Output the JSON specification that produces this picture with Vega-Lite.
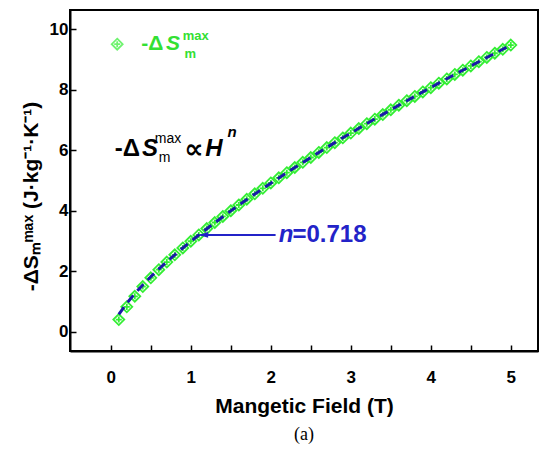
{
  "$schema": "https://vega.github.io/schema/vega-lite/v6.json",
  "width": 468,
  "height": 341,
  "autosize": {"type": "none"},
  "padding": {"left": 70, "top": 10, "right": 11, "bottom": 98},
  "background": "white",
  "config": {
    "view": {"stroke": "black", "strokeWidth": 2},
    "font": "Liberation Sans"
  },
  "title": {"text": "(a)", "orient": "bottom", "font": "Liberation Serif", "fontSize": 18, "fontWeight": "normal", "color": "black", "offset": 10},
  "datasets": {
    "pts": [
      {"H": 0.1, "S": 0.40, "F": 0.571},
      {"H": 0.2, "S": 0.82, "F": 0.940},
      {"H": 0.3, "S": 1.17, "F": 1.258},
      {"H": 0.4, "S": 1.49, "F": 1.546},
      {"H": 0.5, "S": 1.78, "F": 1.815},
      {"H": 0.6, "S": 2.05, "F": 2.069},
      {"H": 0.7, "S": 2.30, "F": 2.311},
      {"H": 0.8, "S": 2.54, "F": 2.543},
      {"H": 0.9, "S": 2.77, "F": 2.767},
      {"H": 1.0, "S": 2.99, "F": 2.985},
      {"H": 1.1, "S": 3.20, "F": 3.196},
      {"H": 1.2, "S": 3.41, "F": 3.403},
      {"H": 1.3, "S": 3.61, "F": 3.604},
      {"H": 1.4, "S": 3.81, "F": 3.801},
      {"H": 1.5, "S": 4.00, "F": 3.994},
      {"H": 1.6, "S": 4.19, "F": 4.183},
      {"H": 1.7, "S": 4.38, "F": 4.369},
      {"H": 1.8, "S": 4.56, "F": 4.552},
      {"H": 1.9, "S": 4.74, "F": 4.733},
      {"H": 2.0, "S": 4.92, "F": 4.910},
      {"H": 2.1, "S": 5.09, "F": 5.085},
      {"H": 2.2, "S": 5.26, "F": 5.258},
      {"H": 2.3, "S": 5.43, "F": 5.428},
      {"H": 2.4, "S": 5.60, "F": 5.597},
      {"H": 2.5, "S": 5.76, "F": 5.763},
      {"H": 2.6, "S": 5.93, "F": 5.928},
      {"H": 2.7, "S": 6.09, "F": 6.091},
      {"H": 2.8, "S": 6.25, "F": 6.252},
      {"H": 2.9, "S": 6.41, "F": 6.412},
      {"H": 3.0, "S": 6.57, "F": 6.569},
      {"H": 3.1, "S": 6.72, "F": 6.726},
      {"H": 3.2, "S": 6.88, "F": 6.881},
      {"H": 3.3, "S": 7.03, "F": 7.035},
      {"H": 3.4, "S": 7.18, "F": 7.187},
      {"H": 3.5, "S": 7.34, "F": 7.338},
      {"H": 3.6, "S": 7.49, "F": 7.488},
      {"H": 3.7, "S": 7.64, "F": 7.637},
      {"H": 3.8, "S": 7.78, "F": 7.784},
      {"H": 3.9, "S": 7.93, "F": 7.931},
      {"H": 4.0, "S": 8.07, "F": 8.077},
      {"H": 4.1, "S": 8.22, "F": 8.221},
      {"H": 4.2, "S": 8.36, "F": 8.365},
      {"H": 4.3, "S": 8.51, "F": 8.507},
      {"H": 4.4, "S": 8.65, "F": 8.648},
      {"H": 4.5, "S": 8.79, "F": 8.789},
      {"H": 4.6, "S": 8.93, "F": 8.929},
      {"H": 4.7, "S": 9.07, "F": 9.068},
      {"H": 4.8, "S": 9.21, "F": 9.206},
      {"H": 4.9, "S": 9.34, "F": 9.342},
      {"H": 5.0, "S": 9.48, "F": 9.480}
    ],
    "legendMark": [{"H": 0.08, "S": 9.51}],
    "legendDelta": [{"H": 0.38, "S": 9.51, "t": "-Δ"}],
    "legendS": [{"H": 0.69, "S": 9.51, "t": "S"}],
    "legendSup": [{"H": 0.9, "S": 9.78, "t": "max"}],
    "legendSub": [{"H": 0.92, "S": 9.2, "t": "m"}],
    "formDelta": [{"H": 0.05, "S": 6.05, "t": "-Δ"}],
    "formS": [{"H": 0.39, "S": 6.05, "t": "S"}],
    "formSup": [{"H": 0.55, "S": 6.37, "t": "max"}],
    "formSub": [{"H": 0.6, "S": 5.73, "t": "m"}],
    "formProp": [{"H": 0.92, "S": 6.0, "t": "∝"}],
    "formH": [{"H": 1.18, "S": 6.05, "t": "H"}],
    "formN": [{"H": 1.46, "S": 6.62, "t": "n"}],
    "arrow": [{"H": 1.12, "H2": 2.06, "S": 3.2}],
    "nText": [{"H": 2.1, "S": 3.2, "t": "n"}],
    "valText": [{"H": 2.27, "S": 3.2, "t": "=0.718"}]
  },
  "layer": [
    {
      "data": {"name": "pts"},
      "mark": {"type": "point", "shape": "M0,-1L1,0L0,1L-1,0Z M-0.55,0L0.55,0 M0,-0.55L0,0.55", "filled": false, "stroke": "#33ee33", "strokeWidth": 1.8, "size": 120, "opacity": 1},
      "encoding": {
        "x": {"field": "H", "type": "quantitative", "scale": {"domain": [-0.51, 5.34], "nice": false, "zero": false},
          "axis": {"title": "Mangetic Field (T)", "values": [0, 0.5, 1, 1.5, 2, 2.5, 3, 3.5, 4, 4.5, 5],
            "labelExpr": "datum.value % 1 === 0 ? format(datum.value, 'd') : ''",
            "tickSize": -6,
            "tickColor": "black", "tickWidth": 1.5, "domainColor": "black", "domainWidth": 2,
            "labelFont": "Liberation Sans", "labelFontSize": 17, "labelFontWeight": "bold", "labelColor": "black", "labelPadding": 24,
            "titleFont": "Liberation Sans", "titleFontSize": 21, "titleFontWeight": "bold", "titleColor": "black", "titlePadding": 10,
            "grid": false}},
        "y": {"field": "S", "type": "quantitative", "scale": {"domain": [-0.64, 10.64], "nice": false, "zero": false},
          "axis": {"title": "-ΔSₘᵐᵃˣ (J·kg⁻¹·K⁻¹)", "values": [0, 1, 2, 3, 4, 5, 6, 7, 8, 9, 10],
            "labelExpr": "datum.value % 2 === 0 ? format(datum.value, 'd') : ''",
            "tickSize": -6,
            "tickColor": "black", "tickWidth": 1.5, "domainColor": "black", "domainWidth": 2,
            "labelFont": "Liberation Sans", "labelFontSize": 17, "labelFontWeight": "bold", "labelColor": "black", "labelPadding": 8,
            "titleFont": "Liberation Sans", "titleFontSize": 21, "titleFontWeight": "bold", "titleColor": "black", "titlePadding": 8, "titleY": 186,
            "grid": false}}
      }
    },
    {
      "data": {"name": "pts"},
      "mark": {"type": "line", "color": "#1a1aa8", "strokeWidth": 3, "strokeDash": [9, 6]},
      "encoding": {
        "x": {"field": "H", "type": "quantitative"},
        "y": {"field": "F", "type": "quantitative"}
      }
    },
    {
      "data": {"name": "legendMark"},
      "mark": {"type": "point", "shape": "M0,-1L1,0L0,1L-1,0Z M-0.55,0L0.55,0 M0,-0.55L0,0.55", "filled": false, "stroke": "#33ee33", "strokeWidth": 1.8, "size": 120},
      "encoding": {"x": {"field": "H", "type": "quantitative"}, "y": {"field": "S", "type": "quantitative"}}
    },
    {
      "data": {"name": "legendDelta"},
      "mark": {"type": "text", "align": "left", "baseline": "middle", "font": "Liberation Sans", "fontSize": 21, "fontWeight": "bold", "color": "#33e033"},
      "encoding": {"x": {"field": "H", "type": "quantitative"}, "y": {"field": "S", "type": "quantitative"}, "text": {"field": "t"}}
    },
    {
      "data": {"name": "legendS"},
      "mark": {"type": "text", "align": "left", "baseline": "middle", "font": "Liberation Sans", "fontSize": 21, "fontWeight": "bold", "fontStyle": "italic", "color": "#33e033"},
      "encoding": {"x": {"field": "H", "type": "quantitative"}, "y": {"field": "S", "type": "quantitative"}, "text": {"field": "t"}}
    },
    {
      "data": {"name": "legendSup"},
      "mark": {"type": "text", "align": "left", "baseline": "middle", "font": "Liberation Sans", "fontSize": 13, "fontWeight": "bold", "color": "#33e033"},
      "encoding": {"x": {"field": "H", "type": "quantitative"}, "y": {"field": "S", "type": "quantitative"}, "text": {"field": "t"}}
    },
    {
      "data": {"name": "legendSub"},
      "mark": {"type": "text", "align": "left", "baseline": "middle", "font": "Liberation Sans", "fontSize": 13, "fontWeight": "bold", "color": "#33e033"},
      "encoding": {"x": {"field": "H", "type": "quantitative"}, "y": {"field": "S", "type": "quantitative"}, "text": {"field": "t"}}
    },
    {
      "data": {"name": "formDelta"},
      "mark": {"type": "text", "align": "left", "baseline": "middle", "font": "Liberation Sans", "fontSize": 24, "fontWeight": "bold", "color": "black"},
      "encoding": {"x": {"field": "H", "type": "quantitative"}, "y": {"field": "S", "type": "quantitative"}, "text": {"field": "t"}}
    },
    {
      "data": {"name": "formS"},
      "mark": {"type": "text", "align": "left", "baseline": "middle", "font": "Liberation Sans", "fontSize": 24, "fontWeight": "bold", "fontStyle": "italic", "color": "black"},
      "encoding": {"x": {"field": "H", "type": "quantitative"}, "y": {"field": "S", "type": "quantitative"}, "text": {"field": "t"}}
    },
    {
      "data": {"name": "formSup"},
      "mark": {"type": "text", "align": "left", "baseline": "middle", "font": "Liberation Sans", "fontSize": 14, "color": "black"},
      "encoding": {"x": {"field": "H", "type": "quantitative"}, "y": {"field": "S", "type": "quantitative"}, "text": {"field": "t"}}
    },
    {
      "data": {"name": "formSub"},
      "mark": {"type": "text", "align": "left", "baseline": "middle", "font": "Liberation Sans", "fontSize": 14, "color": "black"},
      "encoding": {"x": {"field": "H", "type": "quantitative"}, "y": {"field": "S", "type": "quantitative"}, "text": {"field": "t"}}
    },
    {
      "data": {"name": "formProp"},
      "mark": {"type": "text", "align": "left", "baseline": "middle", "font": "DejaVu Sans", "fontSize": 27, "fontWeight": "bold", "color": "black"},
      "encoding": {"x": {"field": "H", "type": "quantitative"}, "y": {"field": "S", "type": "quantitative"}, "text": {"field": "t"}}
    },
    {
      "data": {"name": "formH"},
      "mark": {"type": "text", "align": "left", "baseline": "middle", "font": "Liberation Sans", "fontSize": 24, "fontWeight": "bold", "fontStyle": "italic", "color": "black"},
      "encoding": {"x": {"field": "H", "type": "quantitative"}, "y": {"field": "S", "type": "quantitative"}, "text": {"field": "t"}}
    },
    {
      "data": {"name": "formN"},
      "mark": {"type": "text", "align": "left", "baseline": "middle", "font": "Liberation Sans", "fontSize": 15, "fontWeight": "bold", "fontStyle": "italic", "color": "black"},
      "encoding": {"x": {"field": "H", "type": "quantitative"}, "y": {"field": "S", "type": "quantitative"}, "text": {"field": "t"}}
    },
    {
      "data": {"name": "arrow"},
      "mark": {"type": "rule", "color": "#2323c8", "strokeWidth": 2},
      "encoding": {"x": {"field": "H", "type": "quantitative"}, "x2": {"field": "H2"}, "y": {"field": "S", "type": "quantitative"}}
    },
    {
      "data": {"name": "arrow"},
      "mark": {"type": "point", "shape": "M-1,0L1,-0.6L1,0.6Z", "filled": true, "color": "#2323c8", "size": 90, "opacity": 1, "xOffset": 3},
      "encoding": {"x": {"field": "H", "type": "quantitative"}, "y": {"field": "S", "type": "quantitative"}}
    },
    {
      "data": {"name": "nText"},
      "mark": {"type": "text", "align": "left", "baseline": "middle", "font": "Liberation Sans", "fontSize": 24, "fontWeight": "bold", "fontStyle": "italic", "color": "#2323c8"},
      "encoding": {"x": {"field": "H", "type": "quantitative"}, "y": {"field": "S", "type": "quantitative"}, "text": {"field": "t"}}
    },
    {
      "data": {"name": "valText"},
      "mark": {"type": "text", "align": "left", "baseline": "middle", "font": "Liberation Sans", "fontSize": 24, "fontWeight": "bold", "color": "#2323c8"},
      "encoding": {"x": {"field": "H", "type": "quantitative"}, "y": {"field": "S", "type": "quantitative"}, "text": {"field": "t"}}
    }
  ]
}
